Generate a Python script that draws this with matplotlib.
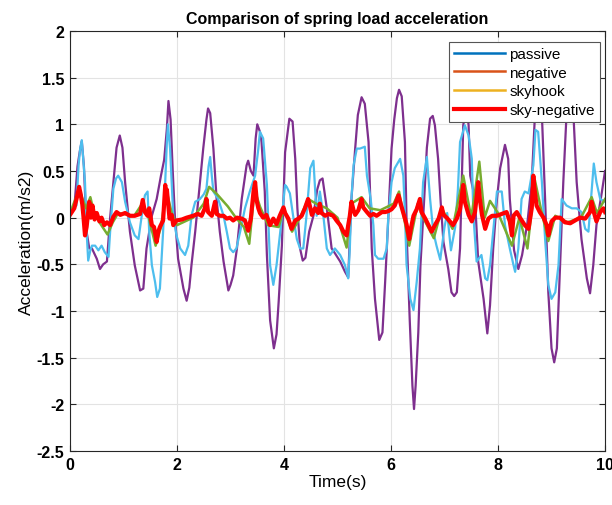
import matplotlib
matplotlib.use('Agg')
import matplotlib.pyplot as plt
from matplotlib.lines import Line2D

plt.rcParams['font.family'] = ['Liberation Sans', 'DejaVu Sans']

# purple trace (largest swing)
purple_t = [0.00, 0.08, 0.14, 0.18, 0.22, 0.26, 0.31, 0.36, 0.41, 0.50, 0.56, 0.62, 0.69, 0.75, 0.81, 0.87,
            0.93, 0.98, 1.03, 1.12, 1.21, 1.31, 1.37, 1.43, 1.53, 1.62, 1.70, 1.76, 1.81, 1.84, 1.88, 1.92,
            1.96, 2.02, 2.12, 2.18, 2.23, 2.27, 2.34, 2.43, 2.49, 2.55, 2.58, 2.62, 2.68, 2.74, 2.80, 2.87,
            2.96, 3.00, 3.05, 3.12, 3.21, 3.30, 3.33, 3.38, 3.43, 3.47, 3.50, 3.55, 3.58, 3.64, 3.68, 3.74,
            3.81, 3.86, 3.90, 3.96, 4.02, 4.10, 4.16, 4.21, 4.25, 4.30, 4.35, 4.40, 4.47, 4.55, 4.62, 4.67,
            4.72, 4.80, 4.89, 4.95, 5.05, 5.14, 5.20, 5.26, 5.33, 5.38, 5.45, 5.51, 5.58, 5.64, 5.70, 5.78,
            5.84, 5.89, 5.95, 6.01, 6.06, 6.11, 6.15, 6.20, 6.26, 6.30, 6.35, 6.40, 6.43, 6.46, 6.51, 6.55,
            6.62, 6.67, 6.73, 6.78, 6.82, 6.88, 6.93, 6.98, 7.07, 7.13, 7.18, 7.23, 7.29, 7.35, 7.41, 7.45,
            7.48, 7.57, 7.63, 7.73, 7.80, 7.85, 7.91, 7.98, 8.04, 8.13, 8.19, 8.22, 8.30, 8.38, 8.45, 8.55,
            8.63, 8.69, 8.75, 8.82, 8.88, 8.94, 9.00, 9.05, 9.10, 9.16, 9.22, 9.28, 9.33, 9.41, 9.47, 9.56,
            9.66, 9.72, 9.78, 9.84, 9.94, 10.0]
purple_a = [0.05, 0.10, 0.55, 0.70, 0.82, 0.55, -0.15, -0.33, -0.33, -0.44, -0.55, -0.50, -0.47, 0.00, 0.38, 0.75,
            0.88, 0.75, 0.38, -0.15, -0.51, -0.78, -0.76, -0.33, 0.02, 0.20, 0.45, 0.62, 0.95, 1.25, 1.05, 0.50,
            0.02, -0.44, -0.76, -0.89, -0.75, -0.51, -0.15, 0.38, 0.74, 1.05, 1.17, 1.12, 0.74, 0.20, -0.15, -0.47,
            -0.78, -0.72, -0.62, -0.33, 0.20, 0.56, 0.61, 0.50, 0.45, 0.85, 1.00, 0.92, 0.81, 0.28, -0.40, -1.10,
            -1.40, -1.25, -0.90, -0.30, 0.70, 1.06, 1.03, 0.63, 0.10, -0.33, -0.46, -0.43, -0.15, 0.02, 0.30, 0.40,
            0.42, 0.10, -0.33, -0.38, -0.47, -0.58, -0.64, 0.20, 0.74, 1.10, 1.29, 1.22, 0.81, -0.33, -0.87, -1.31,
            -1.23, -0.69, 0.00, 0.74, 1.05, 1.28, 1.37, 1.30, 0.81, -0.30, -1.10, -1.80, -2.05, -1.80, -1.23, -0.51,
            0.20, 0.75, 1.06, 1.09, 0.99, 0.63, 0.15, -0.26, -0.55, -0.80, -0.84, -0.80, -0.33, 0.99, 1.20, 0.99,
            0.45, 0.20, -0.47, -0.87, -1.24, -0.94, -0.33, 0.20, 0.53, 0.78, 0.63, 0.20, -0.35, -0.55, -0.40, -0.05,
            0.38, 1.10, 1.20, 1.10, 0.20, -0.80, -1.40, -1.55, -1.40, -0.51, 0.38, 1.10, 1.20, 1.10, 0.38, -0.23,
            -0.65, -0.81, -0.51, -0.08, 0.27, 0.50]

# light blue trace
blue_t = [0.00, 0.06, 0.12, 0.16, 0.19, 0.22, 0.25, 0.28, 0.31, 0.34, 0.38, 0.41, 0.47, 0.53, 0.59, 0.65,
          0.72, 0.75, 0.81, 0.86, 0.90, 0.97, 1.03, 1.12, 1.21, 1.28, 1.34, 1.40, 1.45, 1.48, 1.53, 1.59,
          1.63, 1.68, 1.74, 1.78, 1.81, 1.83, 1.87, 1.93, 1.99, 2.06, 2.15, 2.21, 2.27, 2.34, 2.43, 2.50,
          2.55, 2.59, 2.62, 2.65, 2.68, 2.77, 2.87, 2.93, 2.99, 3.05, 3.11, 3.18, 3.27, 3.36, 3.46, 3.52,
          3.55, 3.61, 3.68, 3.74, 3.80, 3.86, 3.93, 3.96, 4.02, 4.05, 4.11, 4.17, 4.24, 4.30, 4.36, 4.42,
          4.49, 4.55, 4.61, 4.67, 4.73, 4.80, 4.86, 4.95, 5.05, 5.14, 5.20, 5.23, 5.26, 5.30, 5.36, 5.42,
          5.51, 5.55, 5.62, 5.67, 5.70, 5.76, 5.86, 5.92, 5.95, 6.01, 6.07, 6.17, 6.23, 6.26, 6.29, 6.36,
          6.42, 6.48, 6.54, 6.60, 6.67, 6.73, 6.79, 6.85, 6.92, 7.00, 7.05, 7.12, 7.20, 7.25, 7.29, 7.38,
          7.45, 7.51, 7.54, 7.60, 7.69, 7.76, 7.80, 7.85, 7.91, 7.98, 8.07, 8.13, 8.22, 8.29, 8.32, 8.38,
          8.44, 8.50, 8.57, 8.66, 8.70, 8.75, 8.82, 8.88, 8.94, 9.00, 9.07, 9.13, 9.19, 9.28, 9.38, 9.47,
          9.56, 9.63, 9.69, 9.75, 9.79, 9.84, 9.91, 10.0]
blue_a = [0.05, 0.10, 0.13, 0.56, 0.74, 0.83, 0.60, 0.38, -0.15, -0.46, -0.35, -0.30, -0.30, -0.35, -0.30, -0.37,
          -0.42, -0.15, 0.31, 0.42, 0.45, 0.38, 0.17, -0.05, -0.19, -0.23, 0.02, 0.24, 0.28, -0.15, -0.51, -0.69,
          -0.85, -0.76, -0.15, 0.38, 0.80, 1.00, 0.74, 0.02, -0.19, -0.33, -0.40, -0.30, 0.02, 0.17, 0.20, 0.25,
          0.31, 0.55, 0.65, 0.45, 0.28, 0.20, 0.02, -0.15, -0.33, -0.37, -0.33, -0.15, 0.10, 0.28, 0.45, 0.74,
          0.92, 0.85, 0.35, -0.51, -0.72, -0.51, -0.15, 0.02, 0.35, 0.33, 0.26, 0.02, -0.23, -0.33, -0.33, 0.02,
          0.53, 0.61, 0.02, 0.28, 0.05, -0.33, -0.40, -0.33, -0.40, -0.51, -0.65, -0.33, 0.20, 0.56, 0.74, 0.74,
          0.76, 0.45, 0.20, -0.08, -0.40, -0.44, -0.44, -0.33, 0.02, 0.38, 0.53, 0.63, 0.45, 0.05, -0.50, -0.87,
          -0.99, -0.69, -0.33, 0.38, 0.65, 0.20, -0.15, -0.30, -0.45, -0.10, 0.05, -0.35, -0.10, 0.30, 0.81, 0.99,
          0.88, 0.63, 0.02, -0.47, -0.40, -0.65, -0.67, -0.51, -0.15, 0.28, 0.28, -0.08, -0.33, -0.51, -0.58, -0.33,
          0.20, 0.28, 0.26, 0.56, 0.94, 0.92, 0.38, -0.23, -0.72, -0.87, -0.80, -0.51, 0.20, 0.13, 0.10, 0.10,
          0.06, -0.12, -0.15, 0.28, 0.58, 0.38, 0.20, 0.17]

# green trace (mostly under the red one)
green_t = [0.00, 0.17, 0.30, 0.38, 0.45, 0.55, 0.70, 0.80, 0.90, 1.20, 1.35, 1.45, 1.60, 1.70, 1.80, 1.90,
           2.00, 2.30, 2.50, 2.60, 2.75, 2.95, 3.10, 3.25, 3.35, 3.45, 3.55, 3.70, 3.90, 4.00, 4.15, 4.30,
           4.45, 4.60, 4.80, 5.00, 5.17, 5.26, 5.45, 5.60, 5.80, 6.05, 6.15, 6.34, 6.50, 6.60, 6.80, 6.95,
           7.15, 7.35, 7.50, 7.65, 7.75, 7.85, 8.00, 8.26, 8.40, 8.55, 8.69, 8.80, 8.94, 9.07, 9.30, 9.55,
           9.75, 9.85, 10.0]
green_a = [0.05, 0.30, 0.10, 0.22, 0.05, -0.05, -0.18, -0.05, 0.05, 0.02, 0.15, 0.05, -0.30, -0.10, 0.30, 0.05,
           -0.08, 0.00, 0.15, 0.33, 0.25, 0.12, 0.00, -0.10, -0.28, 0.30, 0.12, -0.08, -0.10, 0.10, -0.15, 0.00,
           0.20, 0.15, 0.10, 0.00, -0.32, 0.15, 0.22, 0.10, 0.08, 0.15, 0.28, -0.30, 0.15, 0.00, -0.22, 0.10,
           -0.12, 0.45, 0.00, 0.60, 0.00, 0.18, 0.05, -0.30, 0.00, -0.33, 0.40, 0.10, -0.25, 0.02, -0.05, 0.00,
           0.22, 0.05, 0.20]

# red trace (sky-negative, thick and jagged)
red_t = [0.00, 0.08, 0.13, 0.17, 0.20, 0.23, 0.25, 0.28, 0.31, 0.36, 0.39, 0.42, 0.46, 0.50, 0.55, 0.59,
         0.64, 0.69, 0.75, 0.81, 0.87, 0.94, 1.03, 1.12, 1.21, 1.31, 1.36, 1.40, 1.45, 1.48, 1.53, 1.57,
         1.62, 1.65, 1.68, 1.74, 1.78, 1.79, 1.81, 1.86, 1.90, 1.93, 1.99, 2.09, 2.18, 2.30, 2.39, 2.46,
         2.52, 2.55, 2.58, 2.65, 2.71, 2.74, 2.80, 2.87, 2.93, 2.99, 3.05, 3.12, 3.21, 3.27, 3.33, 3.38,
         3.43, 3.46, 3.49, 3.52, 3.55, 3.61, 3.67, 3.74, 3.80, 3.86, 3.92, 3.99, 4.02, 4.08, 4.14, 4.21,
         4.27, 4.33, 4.39, 4.45, 4.49, 4.52, 4.58, 4.64, 4.67, 4.70, 4.77, 4.83, 4.92, 4.98, 5.05, 5.11,
         5.17, 5.20, 5.23, 5.26, 5.30, 5.33, 5.39, 5.45, 5.48, 5.55, 5.61, 5.67, 5.73, 5.83, 5.89, 5.95,
         6.01, 6.07, 6.14, 6.18, 6.23, 6.29, 6.34, 6.37, 6.42, 6.48, 6.54, 6.57, 6.64, 6.70, 6.76, 6.82,
         6.89, 6.95, 6.98, 7.04, 7.10, 7.16, 7.23, 7.29, 7.35, 7.38, 7.45, 7.51, 7.57, 7.63, 7.66, 7.70,
         7.76, 7.82, 7.89, 7.98, 8.07, 8.16, 8.22, 8.26, 8.29, 8.35, 8.41, 8.50, 8.57, 8.63, 8.66, 8.68,
         8.72, 8.78, 8.85, 8.91, 8.94, 9.00, 9.07, 9.16, 9.25, 9.35, 9.44, 9.53, 9.63, 9.72, 9.75, 9.79,
         9.84, 9.91, 9.97, 10.0]
red_a = [0.03, 0.10, 0.22, 0.33, 0.25, 0.14, 0.02, -0.19, -0.10, 0.17, 0.00, 0.13, -0.02, 0.05, -0.04, 0.00,
         -0.08, -0.05, -0.08, 0.01, 0.06, 0.03, 0.05, 0.02, 0.02, 0.04, 0.19, 0.06, 0.02, 0.10, -0.08, -0.10,
         -0.26, -0.15, -0.10, -0.03, 0.35, 0.17, 0.30, -0.01, 0.03, -0.08, -0.03, -0.02, 0.00, 0.02, 0.04, 0.02,
         0.10, 0.20, 0.06, 0.02, 0.17, 0.04, 0.02, 0.02, -0.01, 0.00, -0.03, 0.00, -0.01, -0.03, -0.14, -0.01,
         0.28, 0.38, 0.18, 0.10, 0.05, 0.00, 0.03, -0.08, -0.01, -0.07, 0.02, 0.11, 0.05, -0.01, -0.12, -0.03,
         -0.01, 0.02, 0.10, 0.20, 0.11, 0.03, 0.10, 0.05, 0.15, 0.05, 0.02, 0.04, 0.02, -0.03, -0.08, -0.15,
         -0.19, -0.08, 0.02, 0.17, 0.08, 0.03, 0.08, 0.20, 0.11, 0.06, 0.02, 0.04, 0.02, 0.06, 0.06, 0.07,
         0.09, 0.13, 0.24, 0.15, 0.05, -0.07, -0.23, -0.12, 0.02, 0.09, 0.20, 0.06, -0.01, -0.08, -0.15, -0.08,
         -0.01, 0.11, 0.03, 0.00, -0.04, -0.08, -0.01, 0.09, 0.35, 0.17, 0.03, -0.04, 0.06, 0.38, 0.20, 0.03,
         -0.12, -0.01, 0.02, 0.02, 0.04, 0.06, -0.04, -0.19, 0.02, 0.06, 0.00, -0.08, -0.12, 0.10, 0.45, 0.32,
         0.13, 0.06, 0.00, -0.08, -0.19, -0.04, 0.00, 0.00, -0.05, -0.06, -0.03, 0.00, -0.01, 0.06, 0.17, 0.06,
         -0.04, 0.06, 0.10, 0.06]

legend_labels = ['passive', 'negative', 'skyhook', 'sky-negative']
legend_colors = ['#0072BD', '#D95319', '#EDB120', '#FF0000']

fig = plt.figure(figsize=(6.12, 5.06), dpi=100)
ax = fig.add_axes([0.1144, 0.1067, 0.8742, 0.8301])

ax.plot(purple_t, purple_a, color='#7E2F8E', lw=1.6)
ax.plot(blue_t, blue_a, color='#4DBEEE', lw=1.6)
ax.plot(green_t, green_a, color='#77AC30', lw=1.8)
ax.plot(red_t, red_a, color='#FF0000', lw=3.0)

ax.set_xlim(0, 10)
ax.set_ylim(-2.5, 2)
ax.set_xticks([0, 2, 4, 6, 8, 10])
ax.set_yticks([-2.5, -2, -1.5, -1, -0.5, 0, 0.5, 1, 1.5, 2])
ax.set_yticklabels(['-2.5', '-2', '-1.5', '-1', '-0.5', '0', '0.5', '1', '1.5', '2'])
ax.grid(True, color='#e3e3e3', lw=0.8)
ax.set_axisbelow(True)
ax.tick_params(direction='in', top=True, right=True, length=4, width=0.8, color='#262626',
               labelsize=11.5, pad=4)
for lab in ax.get_xticklabels() + ax.get_yticklabels():
    lab.set_fontweight('bold')
for s in ax.spines.values():
    s.set_color('#262626')
    s.set_linewidth(0.8)

ax.set_title('Comparison of spring load acceleration', fontsize=11.5, fontweight='bold', pad=6)
ax.set_xlabel('Time(s)', fontsize=12.5, labelpad=2)
ax.set_ylabel('Acceleration(m/s2)', fontsize=12.5, labelpad=2)

handles = [Line2D([], [], color=c, lw=3.0 if i == 3 else 1.8) for i, c in enumerate(legend_colors)]
leg = ax.legend(handles, legend_labels, loc='upper right', bbox_to_anchor=(0.991, 0.974),
                borderaxespad=0, fontsize=11, fancybox=False, framealpha=1, edgecolor='#555555',
                handlelength=3.3, handletextpad=0.3, labelspacing=0.3, borderpad=0.35)
leg.get_frame().set_linewidth(0.8)

fig.savefig('out.png', dpi=100)
